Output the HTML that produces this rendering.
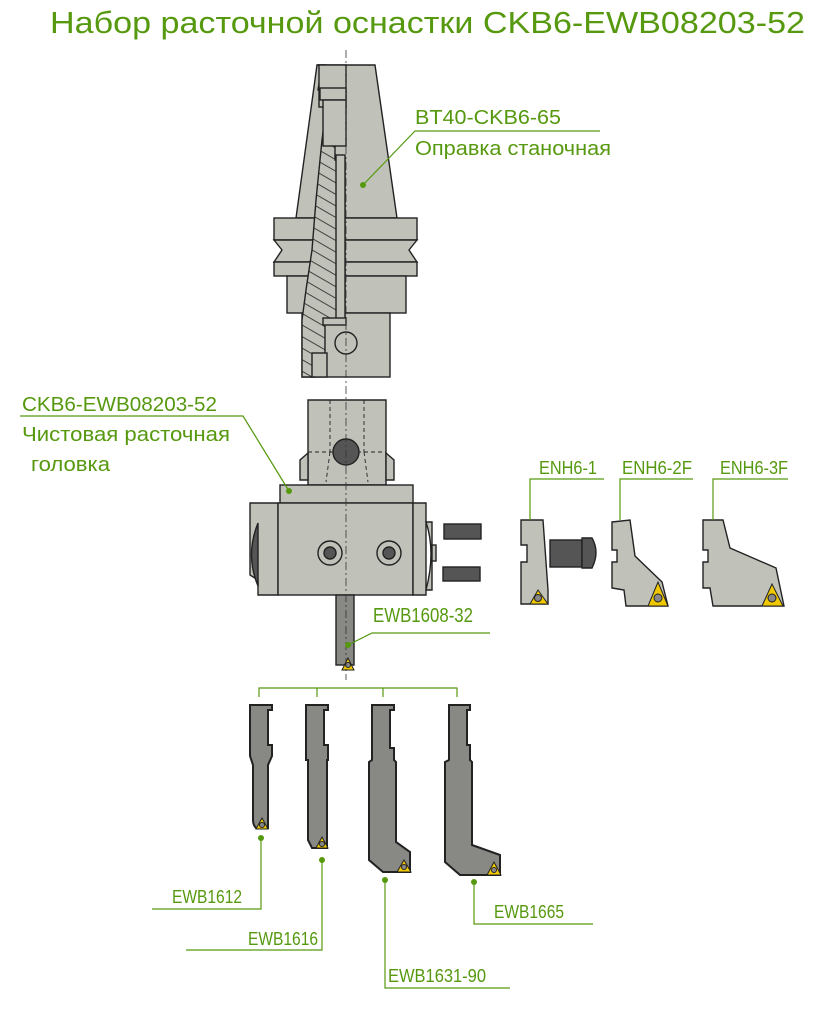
<!DOCTYPE html>
<html><head><meta charset="utf-8"><style>
html,body{margin:0;padding:0;background:#fff;width:821px;height:1024px;overflow:hidden}
svg text{font-family:"Liberation Sans","DejaVu Sans",sans-serif;fill:#56990f}
</style></head><body>
<svg width="821" height="1024" viewBox="0 0 821 1024" xmlns="http://www.w3.org/2000/svg">
<defs>
<pattern id="h" width="10" height="10" patternUnits="userSpaceOnUse" patternTransform="rotate(30)">
<rect width="10" height="10" fill="#c0c2ba"/><line x1="0" y1="0" x2="10" y2="0" stroke="#222" stroke-width="1.6"/></pattern>
</defs>
<text x="50" y="33" font-size="31" textLength="755" lengthAdjust="spacingAndGlyphs">Набор расточной оснастки CKB6-EWB08203-52</text>

<g stroke="#222" stroke-width="1.4" fill="#c0c2ba">
<!-- holder -->
<polygon points="317,65 375,65 397,218 296,218"/>
<rect x="274" y="218" width="143" height="22"/>
<polygon points="274,240 417,240 409,250 417,262 274,262 282,250"/>
<rect x="274" y="262" width="143" height="14"/>
<rect x="287" y="276" width="119" height="37"/>
<rect x="302" y="313" width="88" height="64"/>
<path d="M317,65 L322,65 L318,90 L328,92 L322,140 L316,200 L312,250 L306,290 L302,320 L302,377 L315,377 L315,355 L325,355 L325,320 L345,320 L345,160 L335,160 L335,95 L327,92 L326,65 Z" fill="url(#h)"/>
<rect x="319" y="65" width="27" height="42" fill="#c0c2ba"/>
<rect x="320" y="88" width="26" height="12"/>
<rect x="323" y="100" width="23" height="46"/>
<rect x="336" y="155" width="9" height="165"/>
<rect x="323" y="318" width="23" height="7"/>
<rect x="312" y="353" width="15" height="24"/>
<circle cx="346" cy="343" r="11"/>
<!-- boring head -->
<polygon points="308,400 386,400 386,485 308,485"/>
<polygon points="308,453 300,460 300,480 308,480"/>
<polygon points="386,453 394,460 394,480 386,480"/>
<g stroke-dasharray="4,3" stroke-width="0.9" fill="none">
<line x1="330" y1="400" x2="330" y2="452"/><line x1="364" y1="400" x2="364" y2="452"/>
<line x1="308" y1="452" x2="386" y2="452"/><line x1="330" y1="452" x2="326" y2="482"/><line x1="364" y1="452" x2="368" y2="482"/>
</g>
<rect x="280" y="485" width="133" height="18"/>
<polygon points="250,503 278,503 278,595 258,595 258,580 250,575"/>
<path d="M258,523 Q245,555 258,586 Z" fill="#555"/>
<rect x="278" y="503" width="135" height="92"/>
<polygon points="413,503 426,503 426,595 413,595"/>
<path d="M426,522 Q436,552 426,590 L432,590 L432,522 Z"/>
<rect x="432" y="545" width="4" height="16"/>
<circle cx="330" cy="553" r="12"/><circle cx="330" cy="553" r="6" fill="#555"/>
<circle cx="389" cy="553" r="12"/><circle cx="389" cy="553" r="6" fill="#555"/>
<circle cx="346" cy="452" r="13" fill="#555"/>
<rect x="336" y="595" width="18" height="70" fill="#888984"/>
<rect x="444" y="524" width="37" height="15" fill="#555"/>
<rect x="443" y="567" width="37" height="14" fill="#555"/>
<!-- ENH parts -->
<polygon points="521,520 543,520 548,590 548,604 521,604 521,562 527,562 527,545 521,545"/>
<rect x="550" y="540" width="32" height="27" fill="#555"/>
<path d="M582,538 L592,538 Q600,552 592,568 L582,568 Z" fill="#555"/>
<polygon points="612,522 630,520 635,556 662,582 668,606 626,606 624,590 612,588 612,562 617,562 617,550 612,550"/>
<polygon points="703,520 723,520 730,548 776,568 784,606 713,606 710,588 703,588 703,562 708,562 708,550 703,550"/>
<!-- tools -->
<g fill="#888984" stroke-width="2">
<path d="M250,705 L272,705 L272,710 L268,710 L268,745 L272,745 L272,756 L268,765 L268,828 L256,828 Q253,825 253,820 L253,765 L250,756 Z"/>
<path d="M306,705 L328,705 L328,710 L324,710 L324,745 L328,745 L328,760 L327,760 L327,848 L312,848 L308,840 L308,760 L306,760 Z"/>
<path d="M372,705 L394,705 L394,710 L390,710 L390,748 L394,748 L394,760 L396,762 L396,842 L410,852 L410,872 L383,872 L369,860 L369,762 L372,760 Z"/>
<path d="M449,705 L470,705 L470,710 L467,710 L467,745 L470,745 L470,760 L472,762 L472,845 L500,855 L500,875 L460,875 L445,862 L445,762 L449,760 Z"/>
</g>
</g>
<!-- inserts -->
<g fill="#f0c800" stroke="#222" stroke-width="1">
<polygon points="348,658 342,670 354,670"/>
<polygon points="538,590 530,604 548,604"/>
<polygon points="658,582 648,606 668,606"/>
<polygon points="772,584 762,606 783,606"/>
<polygon points="262,818 256,829 268,829"/>
<polygon points="322,837 316,848 328,848"/>
<polygon points="404,860 397,872 411,872"/>
<polygon points="494,862 487,875 501,875"/>
</g>
<g fill="#888" stroke="#222" stroke-width="1">
<circle cx="348" cy="665" r="2.5"/><circle cx="538" cy="598" r="3.5"/><circle cx="658" cy="598" r="4"/><circle cx="772" cy="598" r="4"/>
<circle cx="262" cy="825" r="2.5"/><circle cx="322" cy="844" r="2.5"/><circle cx="404" cy="867" r="2.5"/><circle cx="494" cy="870" r="2.5"/>
</g>
<!-- centerline -->
<line x1="346" y1="50" x2="346" y2="680" stroke="#333" stroke-width="0.8" stroke-dasharray="8,3,2,3"/>

<!-- leaders -->
<g stroke="#56990f" stroke-width="1.2" fill="none">
<polyline points="600,131 415,131 363,185"/>
<polyline points="20,416 243,416 289,491"/>
<polyline points="490,633 372,633 348,645"/>
<polyline points="604,479 530,479 530,520"/>
<polyline points="693,479 620,479 620,520"/>
<polyline points="788,479 713,479 713,520"/>
<polyline points="259,697 259,688 457,688 457,697"/>
<line x1="317" y1="688" x2="317" y2="697"/><line x1="383" y1="688" x2="383" y2="697"/>
<polyline points="152,909 261,909 261,838"/>
<polyline points="186,950 322,950 322,860"/>
<polyline points="385,880 385,988 510,988"/>
<polyline points="474,882 474,924 593,924"/>
</g>
<g fill="#56990f">
<circle cx="363" cy="185" r="3"/><circle cx="289" cy="491" r="3"/><circle cx="348" cy="645" r="3"/>
<circle cx="261" cy="838" r="3"/><circle cx="322" cy="860" r="3"/><circle cx="385" cy="880" r="3"/><circle cx="474" cy="882" r="3"/>
</g>
<g font-size="20">
<text x="415" y="124" textLength="146" lengthAdjust="spacingAndGlyphs">BT40-CKB6-65</text>
<text x="415" y="155" textLength="196" lengthAdjust="spacingAndGlyphs">Оправка станочная</text>
<text x="22" y="411" textLength="195" lengthAdjust="spacingAndGlyphs">CKB6-EWB08203-52</text>
<text x="22" y="441" textLength="208" lengthAdjust="spacingAndGlyphs">Чистовая расточная</text>
<text x="31" y="471" textLength="79" lengthAdjust="spacingAndGlyphs">головка</text>
<text x="373" y="622" textLength="100" lengthAdjust="spacingAndGlyphs">EWB1608-32</text>
</g>
<g font-size="18">
<text x="539" y="474" textLength="58" lengthAdjust="spacingAndGlyphs">ENH6-1</text>
<text x="622" y="474" textLength="70" lengthAdjust="spacingAndGlyphs">ENH6-2F</text>
<text x="720" y="474" textLength="68" lengthAdjust="spacingAndGlyphs">ENH6-3F</text>
<text x="172" y="903" textLength="70" lengthAdjust="spacingAndGlyphs">EWB1612</text>
<text x="248" y="945" textLength="70" lengthAdjust="spacingAndGlyphs">EWB1616</text>
<text x="388" y="982" textLength="98" lengthAdjust="spacingAndGlyphs">EWB1631-90</text>
<text x="494" y="918" textLength="70" lengthAdjust="spacingAndGlyphs">EWB1665</text>
</g>
</svg>
</body></html>
